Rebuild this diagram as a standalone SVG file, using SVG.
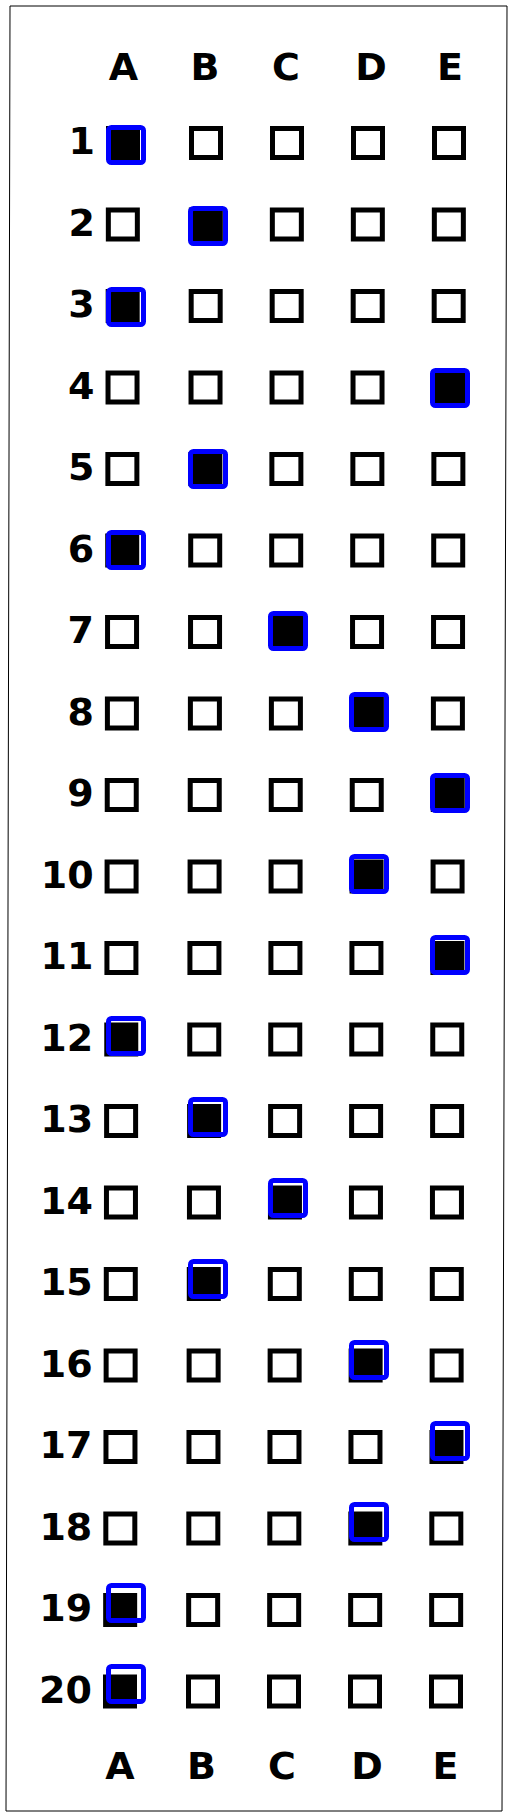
<svg xmlns="http://www.w3.org/2000/svg" width="513" height="1818" viewBox="0 0 513 1818">
<style>
.lbl{font-family:"DejaVu Sans","Verdana",sans-serif;font-weight:bold;font-size:38px;fill:#000}
.num{text-anchor:end}
.hd{text-anchor:middle}
.box{fill:none;stroke:#000;stroke-width:5}
.fill{fill:#000}
.mark{fill:none;stroke:#0000ff;stroke-width:5}
</style>
<defs>
<g id="b"><rect class="box" x="2.5" y="2.5" width="29" height="29"/></g>
<g id="f"><rect class="fill" x="0" y="0" width="34" height="34"/></g>
</defs>
<rect width="513" height="1818" fill="#fff"/>
<polygon points="10,6 507,6 502,1811 6,1811" fill="none" stroke="#000" stroke-width="1"/>
<g id="header-top" class="lbl hd">
<text x="123.5" y="80">A</text><text x="205" y="80">B</text><text x="286" y="80">C</text><text x="371" y="80">D</text><text x="450" y="80">E</text>
</g>
<g id="row-1"><g transform="translate(0,126)"><text class="lbl num" x="95" y="28">1</text><use href="#f" x="106"/><use href="#b" x="189"/><use href="#b" x="270"/><use href="#b" x="351"/><use href="#b" x="432"/></g><rect class="mark" x="108.5" y="127.5" width="35" height="35" rx="3"/></g>
<g id="row-2"><g transform="translate(-0.16,207.5)"><text class="lbl num" x="95" y="28">2</text><use href="#b" x="106"/><use href="#f" x="189"/><use href="#b" x="270"/><use href="#b" x="351"/><use href="#b" x="432"/></g><rect class="mark" x="190.5" y="208.5" width="35" height="35" rx="3"/></g>
<g id="row-3"><g transform="translate(-0.32,289)"><text class="lbl num" x="95" y="28">3</text><use href="#f" x="106"/><use href="#b" x="189"/><use href="#b" x="270"/><use href="#b" x="351"/><use href="#b" x="432"/></g><rect class="mark" x="108.5" y="289.5" width="35" height="35" rx="3"/></g>
<g id="row-4"><g transform="translate(-0.47,370.5)"><text class="lbl num" x="95" y="28">4</text><use href="#b" x="106"/><use href="#b" x="189"/><use href="#b" x="270"/><use href="#b" x="351"/><use href="#f" x="432"/></g><rect class="mark" x="432.5" y="370.5" width="35" height="35" rx="3"/></g>
<g id="row-5"><g transform="translate(-0.63,452)"><text class="lbl num" x="95" y="28">5</text><use href="#b" x="106"/><use href="#f" x="189"/><use href="#b" x="270"/><use href="#b" x="351"/><use href="#b" x="432"/></g><rect class="mark" x="190.5" y="451.5" width="35" height="35" rx="3"/></g>
<g id="row-6"><g transform="translate(-0.79,533.5)"><text class="lbl num" x="95" y="28">6</text><use href="#f" x="106"/><use href="#b" x="189"/><use href="#b" x="270"/><use href="#b" x="351"/><use href="#b" x="432"/></g><rect class="mark" x="108.5" y="532.5" width="35" height="35" rx="3"/></g>
<g id="row-7"><g transform="translate(-0.95,615)"><text class="lbl num" x="95" y="28">7</text><use href="#b" x="106"/><use href="#b" x="189"/><use href="#f" x="270"/><use href="#b" x="351"/><use href="#b" x="432"/></g><rect class="mark" x="270.5" y="613.5" width="35" height="35" rx="3"/></g>
<g id="row-8"><g transform="translate(-1.1,696.5)"><text class="lbl num" x="95" y="28">8</text><use href="#b" x="106"/><use href="#b" x="189"/><use href="#b" x="270"/><use href="#f" x="351"/><use href="#b" x="432"/></g><rect class="mark" x="351.5" y="694.5" width="35" height="35" rx="3"/></g>
<g id="row-9"><g transform="translate(-1.26,778)"><text class="lbl num" x="95" y="28">9</text><use href="#b" x="106"/><use href="#b" x="189"/><use href="#b" x="270"/><use href="#b" x="351"/><use href="#f" x="432"/></g><rect class="mark" x="432.5" y="775.5" width="35" height="35" rx="3"/></g>
<g id="row-10"><g transform="translate(-1.42,859.5)"><text class="lbl num" x="95" y="28">10</text><use href="#b" x="106"/><use href="#b" x="189"/><use href="#b" x="270"/><use href="#f" x="351"/><use href="#b" x="432"/></g><rect class="mark" x="351.5" y="856.5" width="35" height="35" rx="3"/></g>
<g id="row-11"><g transform="translate(-1.58,941)"><text class="lbl num" x="95" y="28">11</text><use href="#b" x="106"/><use href="#b" x="189"/><use href="#b" x="270"/><use href="#b" x="351"/><use href="#f" x="432"/></g><rect class="mark" x="432.5" y="937.5" width="35" height="35" rx="3"/></g>
<g id="row-12"><g transform="translate(-1.74,1022.5)"><text class="lbl num" x="95" y="28">12</text><use href="#f" x="106"/><use href="#b" x="189"/><use href="#b" x="270"/><use href="#b" x="351"/><use href="#b" x="432"/></g><rect class="mark" x="108.5" y="1018.5" width="35" height="35" rx="3"/></g>
<g id="row-13"><g transform="translate(-1.89,1104)"><text class="lbl num" x="95" y="28">13</text><use href="#b" x="106"/><use href="#f" x="189"/><use href="#b" x="270"/><use href="#b" x="351"/><use href="#b" x="432"/></g><rect class="mark" x="190.5" y="1099.5" width="35" height="35" rx="3"/></g>
<g id="row-14"><g transform="translate(-2.05,1185.5)"><text class="lbl num" x="95" y="28">14</text><use href="#b" x="106"/><use href="#b" x="189"/><use href="#f" x="270"/><use href="#b" x="351"/><use href="#b" x="432"/></g><rect class="mark" x="270.5" y="1180.5" width="35" height="35" rx="3"/></g>
<g id="row-15"><g transform="translate(-2.21,1267)"><text class="lbl num" x="95" y="28">15</text><use href="#b" x="106"/><use href="#f" x="189"/><use href="#b" x="270"/><use href="#b" x="351"/><use href="#b" x="432"/></g><rect class="mark" x="190.5" y="1261.5" width="35" height="35" rx="3"/></g>
<g id="row-16"><g transform="translate(-2.37,1348.5)"><text class="lbl num" x="95" y="28">16</text><use href="#b" x="106"/><use href="#b" x="189"/><use href="#b" x="270"/><use href="#f" x="351"/><use href="#b" x="432"/></g><rect class="mark" x="351.5" y="1342.5" width="35" height="35" rx="3"/></g>
<g id="row-17"><g transform="translate(-2.53,1430)"><text class="lbl num" x="95" y="28">17</text><use href="#b" x="106"/><use href="#b" x="189"/><use href="#b" x="270"/><use href="#b" x="351"/><use href="#f" x="432"/></g><rect class="mark" x="432.5" y="1423.5" width="35" height="35" rx="3"/></g>
<g id="row-18"><g transform="translate(-2.68,1511.5)"><text class="lbl num" x="95" y="28">18</text><use href="#b" x="106"/><use href="#b" x="189"/><use href="#b" x="270"/><use href="#f" x="351"/><use href="#b" x="432"/></g><rect class="mark" x="351.5" y="1504.5" width="35" height="35" rx="3"/></g>
<g id="row-19"><g transform="translate(-2.84,1593)"><text class="lbl num" x="95" y="28">19</text><use href="#f" x="106"/><use href="#b" x="189"/><use href="#b" x="270"/><use href="#b" x="351"/><use href="#b" x="432"/></g><rect class="mark" x="108.5" y="1585.5" width="35" height="35" rx="3"/></g>
<g id="row-20"><g transform="translate(-3,1674.5)"><text class="lbl num" x="95" y="28">20</text><use href="#f" x="106"/><use href="#b" x="189"/><use href="#b" x="270"/><use href="#b" x="351"/><use href="#b" x="432"/></g><rect class="mark" x="108.5" y="1666.5" width="35" height="35" rx="3"/></g>
<g id="header-bottom" class="lbl hd">
<text x="120" y="1779">A</text><text x="201.5" y="1779">B</text><text x="282" y="1779">C</text><text x="367" y="1779">D</text><text x="445.5" y="1779">E</text>
</g>
</svg>
